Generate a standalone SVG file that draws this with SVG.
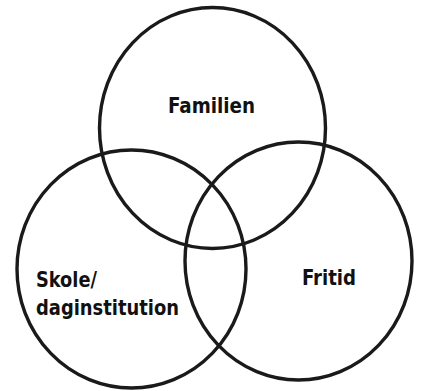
<svg xmlns="http://www.w3.org/2000/svg" width="424" height="391" viewBox="0 0 424 391">
<style>
.c{fill:none;stroke:#1a1a1a;stroke-width:3.4}
.t{font-family:"DejaVu Sans Condensed","DejaVu Sans","Liberation Sans",sans-serif;font-stretch:condensed;font-weight:bold;font-size:21px;fill:#111}
</style>
<rect width="424" height="391" fill="#fff"/>
<g id="familien">
<ellipse class="c" cx="212.5" cy="128" rx="113" ry="120.5"/>
<text class="t" x="168" y="113" textLength="87" lengthAdjust="spacingAndGlyphs">Familien</text>
</g>
<g id="skole">
<ellipse class="c" cx="131.5" cy="269" rx="114.5" ry="119"/>
<text class="t" x="36" y="287" textLength="61" lengthAdjust="spacingAndGlyphs">Skole/</text>
<text class="t" x="36" y="315" textLength="143" lengthAdjust="spacingAndGlyphs">daginstitution</text>
</g>
<g id="fritid">
<ellipse class="c" cx="298.5" cy="261" rx="113.5" ry="119"/>
<text class="t" x="302" y="285" textLength="54" lengthAdjust="spacingAndGlyphs">Fritid</text>
</g>
<g id="connectors"/>
</svg>
